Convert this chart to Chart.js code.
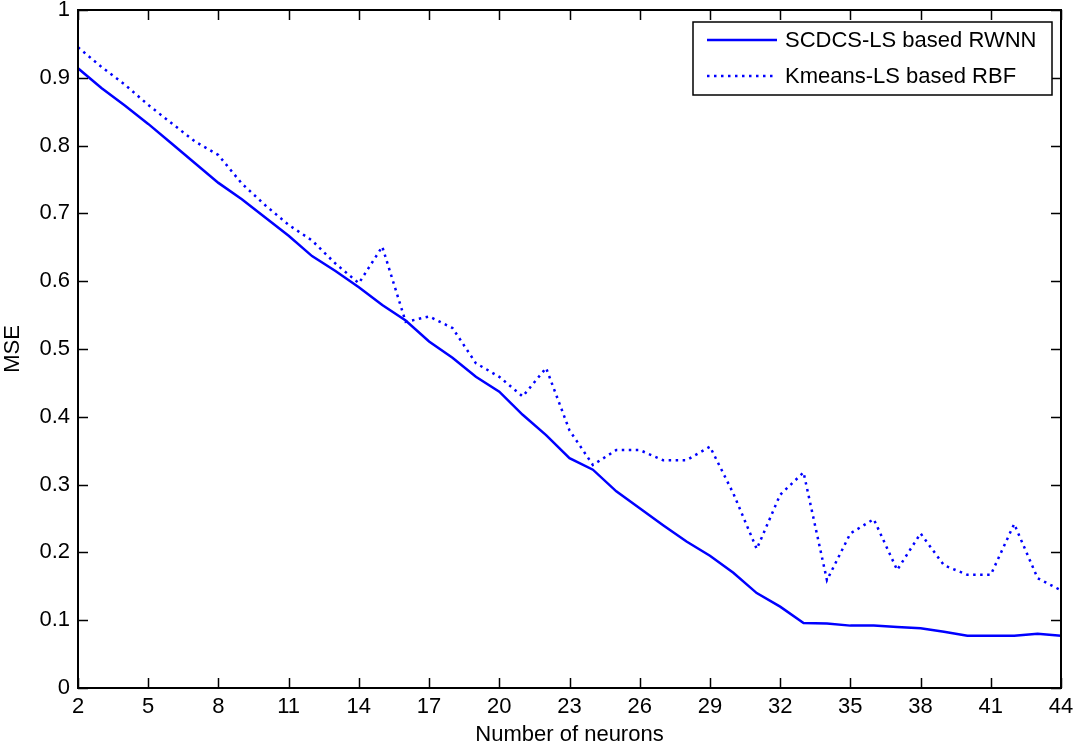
<!DOCTYPE html>
<html>
<head>
<meta charset="utf-8">
<script src="https://cdn.jsdelivr.net/npm/chart.js@4"></script>
<style>
  html, body { margin: 0; padding: 0; background: #fff; }
  #wrap { width: 1074px; height: 746px; }
</style>
</head>
<body>
<div id="wrap"><canvas id="mseChart" width="1074" height="746"></canvas></div>
<script>
// Number of neurons (x) and MSE values
const neurons = [2, 3, 4, 5, 6, 7, 8, 9, 10, 11, 12, 13, 14, 15, 16, 17, 18, 19, 20, 21, 22, 23,
                 24, 25, 26, 27, 28, 29, 30, 31, 32, 33, 34, 35, 36, 37, 38, 39, 40, 41, 42, 43, 44];
const scdcsRwnn = [0.914, 0.885, 0.859, 0.832, 0.803, 0.774, 0.745, 0.721, 0.694, 0.667, 0.637, 0.615, 0.591,
                   0.565, 0.542, 0.511, 0.487, 0.459, 0.437, 0.403, 0.373, 0.339, 0.322, 0.29, 0.265, 0.24,
                   0.216, 0.195, 0.17, 0.14, 0.12, 0.096, 0.095, 0.092, 0.092, 0.09, 0.088, 0.083, 0.077,
                   0.077, 0.077, 0.080, 0.077];
const kmeansRbf = [0.945, 0.916, 0.89, 0.86, 0.833, 0.806, 0.786, 0.744, 0.712, 0.683, 0.66, 0.626, 0.597,
                   0.651, 0.54, 0.548, 0.531, 0.479, 0.459, 0.43, 0.472, 0.38, 0.329, 0.351, 0.351, 0.336,
                   0.336, 0.356, 0.287, 0.205, 0.285, 0.318, 0.159, 0.228, 0.249, 0.174, 0.228, 0.181, 0.167,
                   0.167, 0.242, 0.162, 0.144];
const xTicks = [2, 5, 8, 11, 14, 17, 20, 23, 26, 29, 32, 35, 38, 41, 44];
const yTicks = [0, 0.1, 0.2, 0.3, 0.4, 0.5, 0.6, 0.7, 0.8, 0.9, 1];
const seriesNames = ['SCDCS-LS based RWNN', 'Kmeans-LS based RBF'];

const FONT = '"Liberation Sans", Arial, sans-serif';

// Matlab-style inward ticks on all four sides plus the box
const boxTicks = {
    id: 'boxTicks',
    afterDraw(chart) {
        const { ctx, chartArea: a, scales } = chart;
        ctx.save();
        ctx.strokeStyle = '#000';
        ctx.lineWidth = 1.5;
        ctx.beginPath();
        xTicks.forEach(v => {
            const px = Math.round(scales.x.getPixelForValue(v)) + 0.5;
            ctx.moveTo(px, a.bottom); ctx.lineTo(px, a.bottom - 10);
            ctx.moveTo(px, a.top); ctx.lineTo(px, a.top + 10);
        });
        yTicks.forEach(v => {
            const py = Math.round(scales.y.getPixelForValue(v)) + 0.5;
            ctx.moveTo(a.left, py); ctx.lineTo(a.left + 10, py);
            ctx.moveTo(a.right, py); ctx.lineTo(a.right - 10, py);
        });
        ctx.stroke();
        ctx.lineWidth = 2;
        ctx.strokeRect(a.left, a.top, a.right - a.left, a.bottom - a.top);
        ctx.restore();
    }
};

// Boxed legend in the upper right corner
const boxLegend = {
    id: 'boxLegend',
    afterDraw(chart) {
        const { ctx, chartArea: a } = chart;
        const w = 359, h = 73;
        const x0 = a.right - 9 - w, y0 = 22;
        ctx.save();
        ctx.fillStyle = '#fff';
        ctx.fillRect(x0, y0, w, h);
        ctx.strokeStyle = '#000';
        ctx.lineWidth = 1.5;
        ctx.strokeRect(x0, y0, w, h);
        chart.data.datasets.forEach((ds, i) => {
            const yy = y0 + 18 + i * 36;
            ctx.strokeStyle = ds.borderColor;
            ctx.lineWidth = ds.borderWidth;
            ctx.setLineDash(ds.borderDash || []);
            ctx.beginPath();
            ctx.moveTo(x0 + 14, yy);
            ctx.lineTo(x0 + 84, yy);
            ctx.stroke();
            ctx.setLineDash([]);
            ctx.fillStyle = '#000';
            ctx.font = '22px ' + FONT;
            ctx.textBaseline = 'middle';
            ctx.fillText(ds.label, x0 + 92, yy + 1);
        });
        ctx.restore();
    }
};

const ctx = document.getElementById('mseChart').getContext('2d');
new Chart(ctx, {
    type: 'line',
    data: {
        labels: neurons,
        datasets: [{
            label: seriesNames[0],
            data: neurons.map((n, i) => ({ x: n, y: scdcsRwnn[i] })),
            borderColor: '#0000ff',
            borderWidth: 2.5,
            pointRadius: 0,
            tension: 0
        }, {
            label: seriesNames[1],
            data: neurons.map((n, i) => ({ x: n, y: kmeansRbf[i] })),
            borderColor: '#0000ff',
            borderWidth: 2.5,
            borderDash: [2.5, 4.5],
            pointRadius: 0,
            tension: 0
        }]
    },
    options: {
        responsive: false,
        animation: false,
        layout: { padding: 0 },
        plugins: {
            legend: { display: false },
            tooltip: { enabled: false }
        },
        scales: {
            x: {
                type: 'linear',
                min: 2,
                max: 44,
                afterBuildTicks: s => { s.ticks = xTicks.map(v => ({ value: v })); },
                afterFit: s => { s.height = 58; s.paddingLeft = 0; s.paddingRight = 13; },
                grid: { display: false, drawTicks: false },
                border: { display: false },
                ticks: { color: '#000', font: { family: FONT, size: 22 }, padding: 6, maxRotation: 0 },
                title: {
                    display: true,
                    text: 'Number of neurons',
                    color: '#000',
                    font: { family: FONT, size: 22, lineHeight: 1.0 },
                    padding: { top: 0, bottom: 0 }
                }
            },
            y: {
                min: 0,
                max: 1,
                afterBuildTicks: s => { s.ticks = yTicks.map(v => ({ value: v })); },
                afterFit: s => { s.width = 78; s.paddingTop = 10; s.paddingBottom = 0; },
                grid: { display: false, drawTicks: false },
                border: { display: false },
                ticks: {
                    color: '#000',
                    font: { family: FONT, size: 22 },
                    padding: 8,
                    callback: v => String(v)
                },
                title: {
                    display: true,
                    text: 'MSE',
                    color: '#000',
                    font: { family: FONT, size: 22 },
                    padding: { top: 0, bottom: 0 }
                }
            }
        }
    },
    plugins: [boxTicks, boxLegend]
});
</script>
</body>
</html>
